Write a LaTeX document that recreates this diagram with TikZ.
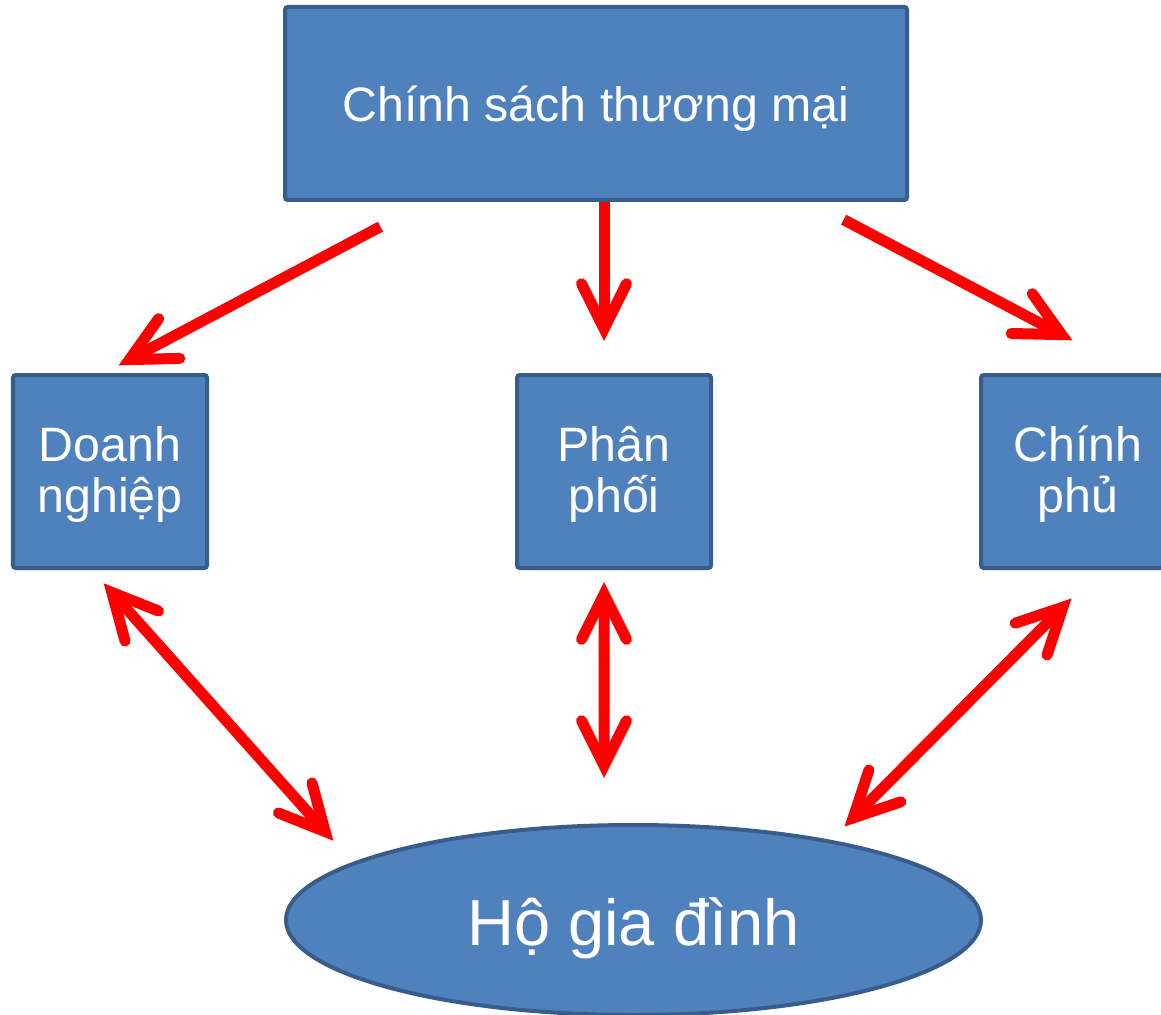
\documentclass[tikz,border=0pt]{standalone}
\usepackage{fontspec}
\setmainfont{Liberation Sans}
\definecolor{boxfill}{RGB}{79, 129, 189}
\definecolor{boxline}{RGB}{56, 93, 138}
\definecolor{arrowred}{RGB}{255, 0, 0}
\usetikzlibrary{shapes.geometric,arrows.meta,positioning,calc}
\tikzset{redbarb/.tip={Straight Barb[length=0.9cm, width=0.9cm, line cap=round, line join=miter]}}

\begin{document}
\begin{tikzpicture}[
    box/.style={rectangle, draw=boxline, fill=boxfill, line width=0.08cm, rounded corners=1.5pt,
        text=white, align=center, font=\fontsize{27.5}{28.5}\selectfont,
        text height=1.92cm, text depth=0.3cm,
        minimum width=3.88cm, minimum height=3.86cm, inner sep=0pt},
    arr/.style={line width=0.22cm, color=arrowred, shorten >=-0.1cm, shorten <=-0.1cm, -redbarb},
    darr/.style={arr, redbarb-redbarb}
]
    \useasboundingbox (0,0) rectangle (23.22,20.28);
    \clip (0,0) rectangle (23.22,20.28);
    \fill[white] (0,0) rectangle (23.22,20.28);

    \node[box, minimum width=12.44cm, text height=1.0cm, text depth=0.26cm] (policy) at (11.92,18.21) {Chính sách thương mại};
    \node[box] (firm) at (2.20,10.85) {Doanh\\nghiệp};
    \node[box] (dist) at (12.28,10.85) {Phân\\phối};
    \node[box] (gov) at (21.56,10.85) {Chính\\phủ};
    \node[ellipse, draw=boxline, fill=boxfill, line width=0.08cm, text=white,
        minimum width=13.9cm, minimum height=3.8cm, inner sep=0pt,
        text height=1.3cm, text depth=0.3cm,
        font=\fontsize{37}{40}\selectfont] (home) at (12.67,1.88) {Hộ gia đình};

    % policy to the three actors
    \draw[arr] ($(policy.south west)+(1.86,-0.54)$) -- ($(firm.north)+(0.26,0.20)$);
    \draw[arr] ($(policy.south)+(0.16,-0.10)$) -- ($(dist.north)+(-0.20,0.74)$);
    \draw[arr] ($(policy.south east)+(-1.22,-0.40)$) -- ($(gov.north)+(-0.20,0.70)$);

    % actors and households
    \draw[darr] ($(firm.south)+(-0.06,-0.34)$) -- ($(home.center)+(-6.07,1.66)$);
    \draw[darr] ($(dist.south)+(-0.20,-0.34)$) -- ($(home.north)+(-0.59,1.00)$);
    \draw[darr] ($(gov.south)+(-0.20,-0.64)$) -- ($(home.center)+(4.29,1.94)$);
\end{tikzpicture}
\end{document}
